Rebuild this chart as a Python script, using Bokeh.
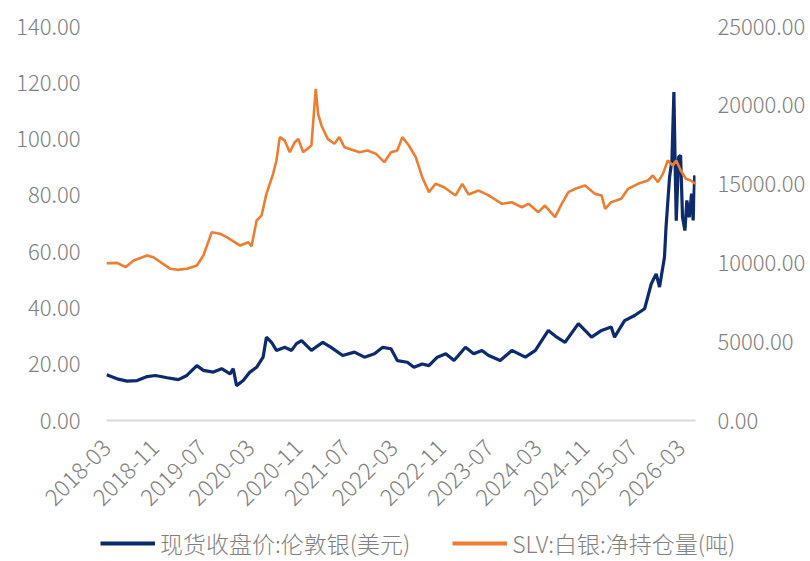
import pandas as pd
from bokeh.plotting import figure
from bokeh.layouts import column
from bokeh.models import (Range1d, LinearAxis, FixedTicker, NumeralTickFormatter,
                          DatetimeTickFormatter, Legend, LegendItem)
from bokeh.embed import file_html
from bokeh.resources import INLINE

# ---------------- data ----------------
silver_dates = [
    "2018-03-01", "2018-04-24", "2018-06-14", "2018-08-04", "2018-09-24", "2018-11-05",
    "2019-01-04", "2019-03-02", "2019-04-14", "2019-06-04", "2019-07-07", "2019-08-27",
    "2019-10-08", "2019-11-20", "2019-12-06", "2019-12-23", "2020-01-26", "2020-02-29",
    "2020-04-03", "2020-05-06", "2020-05-23", "2020-06-18", "2020-07-13", "2020-08-24",
    "2020-09-28", "2020-10-23", "2020-11-18", "2021-01-07", "2021-03-06", "2021-04-17",
    "2021-06-15", "2021-08-14", "2021-10-04", "2021-11-24", "2022-01-05", "2022-02-16",
    "2022-03-20", "2022-05-10", "2022-06-13", "2022-07-25", "2022-08-28", "2022-10-10",
    "2022-11-22", "2023-01-03", "2023-03-02", "2023-04-13", "2023-05-25", "2023-06-28",
    "2023-08-26", "2023-10-24", "2024-01-01", "2024-02-21", "2024-04-27", "2024-06-09",
    "2024-07-21", "2024-09-27", "2024-12-03", "2025-01-23", "2025-03-13", "2025-03-30",
    "2025-05-20", "2025-07-10", "2025-08-30", "2025-10-03", "2025-10-28", "2025-11-14",
    "2025-12-09", "2025-12-17", "2026-01-04", "2026-01-16", "2026-01-26", "2026-02-02",
    "2026-02-07", "2026-02-19", "2026-03-01", "2026-03-11", "2026-03-23", "2026-04-02",
    "2026-04-14", "2026-04-26", "2026-05-04", "2026-05-12",
]
silver_usd = [
    16.3, 14.8, 14.0, 14.2, 15.6, 16.0,
    15.2, 14.5, 16.0, 19.5, 17.8, 17.2,
    18.4, 16.6, 18.4, 12.4, 14.2, 17.2,
    18.9, 22.5, 29.6, 27.8, 24.9, 26.0,
    24.9, 27.3, 28.4, 24.9, 27.8, 26.0,
    23.1, 24.3, 22.5, 23.7, 26.0, 25.5,
    21.3, 20.7, 18.9, 20.1, 19.5, 22.5,
    23.7, 21.3, 26.0, 23.7, 24.9, 23.1,
    21.3, 24.9, 22.5, 24.9, 32.0, 29.6,
    27.8, 34.4, 29.6, 32.0, 33.2, 29.6,
    35.5, 37.3, 39.7, 48.6, 52.1, 47.4,
    58.0, 68.7, 86.5, 92.4, 116.7, 88.8,
    71.0, 93.6, 94.2, 72.2, 67.5, 78.2,
    72.2, 80.6, 71.1, 87.1,
]

slv_dates = [
    "2018-03-01", "2018-04-24", "2018-06-06", "2018-07-17", "2018-09-24", "2018-10-26",
    "2019-01-20", "2019-02-24", "2019-04-14", "2019-06-04", "2019-07-07", "2019-08-19",
    "2019-09-30", "2019-11-03", "2020-01-10", "2020-02-21", "2020-03-08", "2020-04-03",
    "2020-04-28", "2020-05-23", "2020-06-26", "2020-07-13", "2020-07-30", "2020-08-24",
    "2020-09-19", "2020-10-14", "2020-11-01", "2020-11-26", "2021-01-07", "2021-01-29",
    "2021-02-10", "2021-02-27", "2021-03-31", "2021-05-04", "2021-05-29", "2021-06-24",
    "2021-09-09", "2021-10-20", "2021-12-02", "2022-01-13", "2022-02-16", "2022-03-20",
    "2022-04-15", "2022-05-18", "2022-06-22", "2022-07-25", "2022-08-28", "2022-10-01",
    "2022-11-13", "2023-01-11", "2023-02-14", "2023-03-18", "2023-05-08", "2023-06-28",
    "2023-09-04", "2023-10-24", "2023-12-14", "2024-01-17", "2024-03-07", "2024-04-10",
    "2024-05-31", "2024-07-04", "2024-08-07", "2024-09-10", "2024-10-31", "2024-12-20",
    "2025-01-23", "2025-02-10", "2025-03-13", "2025-05-03", "2025-06-07", "2025-07-27",
    "2025-09-16", "2025-10-11", "2025-11-06", "2025-12-01", "2025-12-26", "2026-01-21",
    "2026-02-07", "2026-03-02", "2026-03-28", "2026-04-22", "2026-05-16",
]
slv_tons = [
    9980, 10000, 9730, 10150, 10470, 10360,
    9625, 9560, 9625, 9835, 10470, 11950,
    11850, 11630, 11100, 11310, 11040, 12690,
    13000, 14380, 15650, 16500, 17980, 17770,
    17020, 17660, 17870, 17020, 17450, 21050,
    19460, 18720, 17870, 17560, 17980, 17340,
    17020, 17130, 16920, 16390, 17020, 17130,
    17980, 17450, 16710, 15440, 14490, 15020,
    14800, 14280, 15020, 14340, 14590, 14280,
    13750, 13850, 13530, 13750, 13220, 13640,
    12900, 13750, 14490, 14700, 14910, 14380,
    14280, 13430, 13850, 14070, 14700, 15020,
    15230, 15550, 15120, 15650, 16500, 16180,
    16500, 15860, 15340, 15230, 15020,
]

x_tick_labels = ["2018-03", "2018-11", "2019-07", "2020-03", "2020-11", "2021-07",
                 "2022-03", "2022-11", "2023-07", "2024-03", "2024-11", "2025-07", "2026-03"]
left_ticks = [0, 20, 40, 60, 80, 100, 120, 140]
right_ticks = [0, 5000, 10000, 15000, 20000, 25000]

name_silver = "现货收盘价:伦敦银(美元)"
name_slv = "SLV:白银:净持仓量(吨)"

# ---------------- styling ----------------
NAVY = "#0d2a6c"
ORANGE = "#ed7d31"
GREY_TXT = "#808080"
FONT = "'Noto Sans CJK SC Light', 'Noto Sans CJK SC'"

x_silver = pd.to_datetime(silver_dates)
x_slv = pd.to_datetime(slv_dates)
x_start = pd.Timestamp("2018-03-01")
x_end = pd.Timestamp("2026-05-16")

W = 808
H_MAIN = 522
H_LEG = 39
FRAME_LEFT, FRAME_RIGHT = 106, 698
FRAME_TOP, FRAME_BOTTOM = 26, 420


def no_frame_align(fig):
    if "frame_align" in fig.properties():
        fig.frame_align = False


p = figure(width=W, height=H_MAIN, x_axis_type="datetime", output_backend="svg",
           toolbar_location=None,
           x_range=Range1d(x_start, x_end), y_range=Range1d(0, 140),
           min_border_left=FRAME_LEFT, min_border_right=W - FRAME_RIGHT,
           min_border_top=FRAME_TOP, min_border_bottom=H_MAIN - FRAME_BOTTOM)
no_frame_align(p)
p.outline_line_color = None
p.background_fill_color = "white"
p.border_fill_color = "white"
p.xgrid.visible = False
p.ygrid.visible = False

p.extra_y_ranges = {"right": Range1d(0, 25000)}

r1 = p.line(x_silver, silver_usd, line_color=NAVY, line_width=3.2)
r2 = p.line(x_slv, slv_tons, line_color=ORANGE, line_width=2.6, y_range_name="right")

# x axis
xa = p.xaxis[0]
tick_ms = [pd.Timestamp(t + "-01").value // 10**6 for t in x_tick_labels]
xa.ticker = FixedTicker(ticks=tick_ms)
fmt = "%Y-%m"
xa.formatter = DatetimeTickFormatter(years=fmt, months=fmt, days=fmt, hours=fmt,
                                     minutes=fmt, seconds=fmt, milliseconds=fmt,
                                     microseconds=fmt, hourmin=fmt, minsec=fmt)
xa.major_label_orientation = 0.7854
xa.axis_line_color = "#d9d9d9"
xa.axis_line_width = 2
xa.major_tick_line_color = None
xa.minor_tick_line_color = None
xa.major_label_standoff = 17
xa.major_label_text_font = FONT
xa.major_label_text_font_size = "23px"
xa.major_label_text_color = GREY_TXT

# left axis
ya = p.yaxis[0]
ya.ticker = FixedTicker(ticks=left_ticks)
ya.formatter = NumeralTickFormatter(format="0.00")
ya.axis_line_color = None
ya.major_tick_line_color = None
ya.minor_tick_line_color = None
ya.major_label_standoff = 20
ya.major_label_text_font = FONT
ya.major_label_text_font_size = "22px"
ya.major_label_text_color = GREY_TXT

# right axis
ra = LinearAxis(y_range_name="right", ticker=FixedTicker(ticks=right_ticks),
                formatter=NumeralTickFormatter(format="0.00"))
ra.axis_line_color = None
ra.major_tick_line_color = None
ra.minor_tick_line_color = None
ra.major_label_standoff = 16
ra.major_label_text_font = FONT
ra.major_label_text_font_size = "22px"
ra.major_label_text_color = GREY_TXT
p.add_layout(ra, "right")

# ---------------- legend strip below the chart ----------------
# the series are re-drawn far outside this strip's ranges, only their legend keys show
lg = figure(width=W, height=H_LEG, output_backend="svg", toolbar_location=None,
            x_range=Range1d(0, 1), y_range=Range1d(0, 1),
            x_axis_location=None, y_axis_location=None,
            min_border_left=0, min_border_right=0, min_border_top=0, min_border_bottom=0)
no_frame_align(lg)
lg.outline_line_color = None
lg.xgrid.visible = False
lg.ygrid.visible = False
k1 = lg.line(x_silver, silver_usd, line_color=NAVY, line_width=4)
k2 = lg.line(x_slv, slv_tons, line_color=ORANGE, line_width=4)

legend = Legend(items=[LegendItem(label=name_silver, renderers=[k1]),
                       LegendItem(label=name_slv, renderers=[k2])],
                orientation="horizontal", location=(100, 1),
                glyph_width=55, glyph_height=20, label_standoff=5, spacing=42,
                padding=0, margin=0,
                label_text_font=FONT, label_text_font_size="23px",
                label_text_color=GREY_TXT,
                background_fill_alpha=0, border_line_color=None)
lg.add_layout(legend, "center")

layout = column(p, lg, spacing=0)
open("out.html", "w").write(file_html(layout, INLINE))
